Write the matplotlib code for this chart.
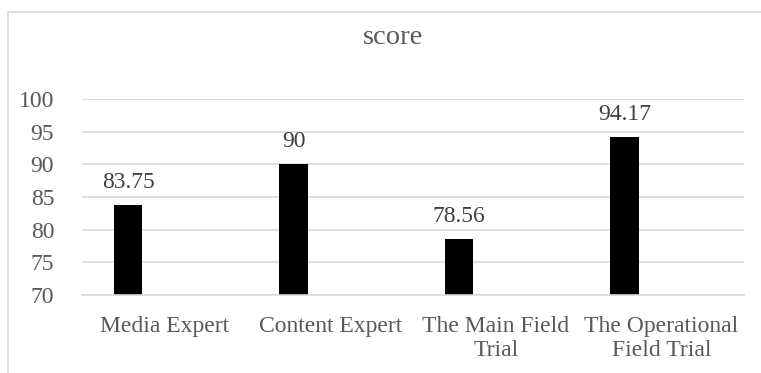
import matplotlib.pyplot as plt
from matplotlib.patches import Rectangle
import numpy as np

categories = ['Media Expert', 'Content Expert', 'The Main Field\nTrial', 'The Operational\nField Trial']
scores = [83.75, 90, 78.56, 94.17]
score_labels = ['83.75', '90', '78.56', '94.17']
yticks = [70, 75, 80, 85, 90, 95, 100]

plt.rcParams['font.family'] = ['Liberation Serif', 'DejaVu Serif']

W, H = 761, 373
fig = plt.figure(figsize=(W / 100, H / 100), dpi=100)

# chart frame (cut off at right and bottom, like the source)
fig.patches.append(Rectangle((8 / W, -0.1), 1.1, 1 - 12 / H + 0.1, transform=fig.transFigure,
                             fill=False, edgecolor='#d9d9d9', linewidth=1.2))

ax = fig.add_axes([82 / W, 1 - 295 / H, (744 - 82) / W, (295 - 99) / H])
x = np.arange(len(categories))
offset = -0.222
bars = ax.bar(x + offset, scores, width=0.173, color='black', bottom=0)

ax.set_xlim(-0.5, len(categories) - 0.5)
ax.set_ylim(70, 100)
ax.set_yticks(yticks)
ax.set_yticklabels([str(t) for t in yticks], fontsize=17, color='#595959')
ax.set_xticks(x)
ax.set_xticklabels(categories, fontsize=17, color='#595959', linespacing=1.2)
ax.tick_params(axis='both', length=0)
ax.tick_params(axis='y', pad=20)
ax.tick_params(axis='x', pad=15)
ax.grid(axis='y', color='#d9d9d9', linewidth=1.2)
ax.set_axisbelow(True)
for s in ['top', 'right', 'left']:
    ax.spines[s].set_visible(False)
ax.spines['bottom'].set_color('#d9d9d9')
ax.spines['bottom'].set_linewidth(1.2)

for xi, v, lab in zip(x, scores, score_labels):
    ax.annotate(lab, (xi + offset, v), xytext=(0, 9), textcoords='offset points',
                ha='center', va='bottom', fontsize=17, color='#404040')

fig.text(393.5 / W, 1 - 37 / H, 'score', ha='center', va='center', fontsize=20.5, color='#595959')

fig.savefig('out.png', dpi=100)
